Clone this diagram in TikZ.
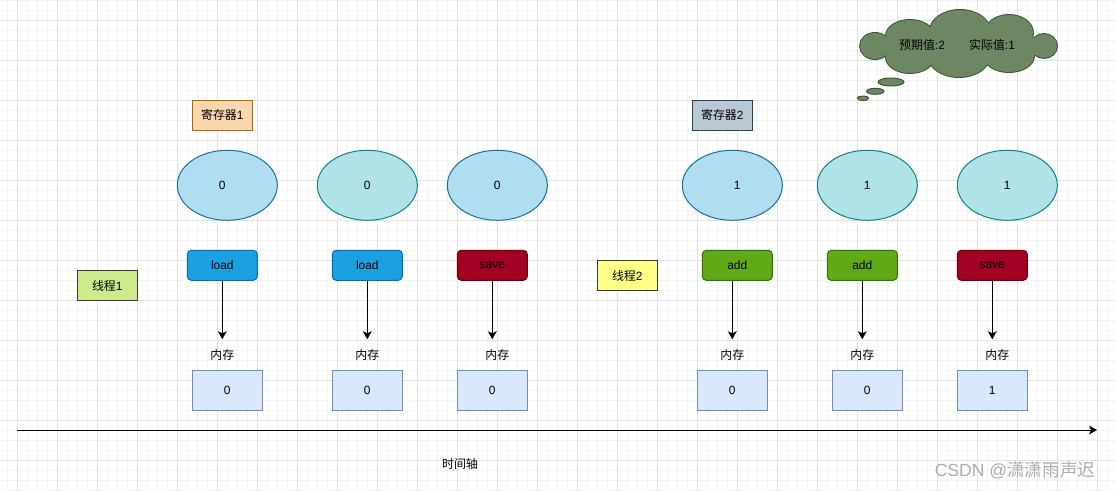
\documentclass[tikz,border=0pt]{standalone}
\usepackage{fontspec}
\setmainfont{Liberation Sans}
\newfontfamily\cjk{Noto Sans CJK SC}
\usetikzlibrary{arrows.meta,shapes.geometric}

\definecolor{gridminor}{HTML}{F4F4F4}
\definecolor{gridmajor}{HTML}{E2E2E2}
\definecolor{regAfill}{HTML}{FAD7AC}
\definecolor{regAline}{HTML}{B46504}
\definecolor{regBfill}{HTML}{BAC8D3}
\definecolor{regBline}{HTML}{23445D}
\definecolor{blueFill}{HTML}{B1DDF0}
\definecolor{blueLine}{HTML}{10739E}
\definecolor{cyanFill}{HTML}{B0E3E6}
\definecolor{cyanLine}{HTML}{0E8088}
\definecolor{loadFill}{HTML}{1BA1E2}
\definecolor{loadLine}{HTML}{006EAF}
\definecolor{saveFill}{HTML}{A20025}
\definecolor{saveLine}{HTML}{6F0000}
\definecolor{addFill}{HTML}{60A917}
\definecolor{addLine}{HTML}{2D7600}
\definecolor{memFill}{HTML}{DAE8FC}
\definecolor{memLine}{HTML}{6C8EBF}
\definecolor{thAfill}{HTML}{CDEB8B}
\definecolor{thBfill}{HTML}{FFFF88}
\definecolor{thLine}{HTML}{36393D}
\definecolor{cloudFill}{HTML}{6D8764}
\definecolor{cloudLine}{HTML}{3A5431}

\tikzset{
	tag/.style={draw, line width=0.7pt, minimum width=1.5cm, minimum height=0.75cm, inner sep=0pt},
	cell/.style={ellipse, draw, line width=0.7pt, minimum width=2.5cm, minimum height=1.75cm, inner sep=0pt},
	op/.style={draw, rounded corners=0.1cm, line width=0.7pt, minimum width=1.75cm, minimum height=0.75cm, inner sep=0pt},
	mem/.style={draw=memLine, fill=memFill, line width=0.7pt, minimum width=1.75cm, minimum height=1cm, inner sep=0pt},
	flow/.style={line width=0.7pt, -{Stealth[length=2mm,width=2.2mm,inset=0.5mm]}},
}

\begin{document}
\begin{tikzpicture}[x=0.025cm, y=-0.025cm, font=\fontsize{8.5}{10}\selectfont]
	\useasboundingbox (0,0) rectangle (1116,491);
	\fill[white] (0,0) rectangle (1116,491);
	\foreach \x in {7.5,17.5,...,1107.5} \draw[gridminor, line width=0.4pt] (\x,0) -- (\x,491);
	\foreach \y in {0,10,...,490} \draw[gridminor, line width=0.4pt] (0,\y) -- (1116,\y);
	\foreach \x in {17.5,57.5,...,1097.5} \draw[gridmajor, line width=0.5pt] (\x,0) -- (\x,491);
	\foreach \y in {20,60,...,460} \draw[gridmajor, line width=0.5pt] (0,\y) -- (1116,\y);

	\foreach \cx/\cy/\rx/\ry in {875/46/15/13, 910/36/24/16, 960/31/30/21, 1009/33/24/18, 1044/46/13/12, 1009/56/25/16, 959/57/30/20, 910/57/24/16}
		\draw[draw=cloudLine, fill=cloudFill, line width=1.4pt] (\cx,\cy) ellipse [x radius=\rx, y radius=\ry];
	\foreach \cx/\cy/\rx/\ry in {875/46/15/13, 910/36/24/16, 960/31/30/21, 1009/33/24/18, 1044/46/13/12, 1009/56/25/16, 959/57/30/20, 910/57/24/16}
		\fill[cloudFill] (\cx,\cy) ellipse [x radius=\rx, y radius=\ry];
	\fill[cloudFill] (888,38) rectangle (1036,55);
	\draw[draw=cloudLine, fill=cloudFill, line width=0.7pt] (891,82) ellipse [x radius=13, y radius=4];
	\draw[draw=cloudLine, fill=cloudFill, line width=0.7pt] (875.3,91.3) ellipse [x radius=8.7, y radius=3];
	\draw[draw=cloudLine, fill=cloudFill, line width=0.7pt] (863,98.3) ellipse [x radius=5.7, y radius=2.3];
	\node (expect) at (922,45) {{\cjk 预期值}:2};
	\node (actual) at (992,45) {{\cjk 实际值}:1};

	\node[tag, fill=regAfill, draw=regAline] (reg1) at (222.3,115.3) {{\cjk 寄存器}1};
	\node[tag, fill=regBfill, draw=regBline] (reg2) at (722.3,115.3) {{\cjk 寄存器}2};
	\node[tag, fill=thAfill, draw=thLine] (th1) at (107.3,285.5) {{\cjk 线程}1};
	\node[tag, fill=thBfill, draw=thLine] (th2) at (627.3,275.5) {{\cjk 线程}2};

	\node[cell, fill=blueFill, draw=blueLine, label={[xshift=-0.125cm]center:0}] (c1) at (227.3,185.3) {};
	\node[cell, fill=cyanFill, draw=cyanLine] (c2) at (367.3,185.3) {0};
	\node[cell, fill=blueFill, draw=blueLine] (c3) at (497.3,185.3) {0};
	\node[cell, fill=blueFill, draw=blueLine, label={[xshift=0.125cm]center:1}] (c4) at (732.3,185.3) {};
	\node[cell, fill=cyanFill, draw=cyanLine] (c5) at (867.3,185.3) {1};
	\node[cell, fill=cyanFill, draw=cyanLine] (c6) at (1007.3,185.3) {1};

	\node[op, fill=loadFill, draw=loadLine] (op1) at (222.3,265.3) {load};
	\node[op, fill=loadFill, draw=loadLine] (op2) at (367.3,265.3) {load};
	\node[op, fill=saveFill, draw=saveLine] (op3) at (492.3,265.3) {save};
	\node[op, fill=addFill, draw=addLine] (op4) at (737.3,265.3) {add};
	\node[op, fill=addFill, draw=addLine] (op5) at (862.3,265.3) {add};
	\node[op, fill=saveFill, draw=saveLine] (op6) at (992.3,265.3) {save};

	\coordinate (e1) at (222.3,339.3);
	\coordinate (e2) at (367.3,339.3);
	\coordinate (e3) at (492.3,339.3);
	\coordinate (e4) at (732.3,339.3);
	\coordinate (e5) at (862.3,339.3);
	\coordinate (e6) at (992.3,339.3);
	\draw[flow] (op1.south -| e1) -- (e1);
	\draw[flow] (op2.south -| e2) -- (e2);
	\draw[flow] (op3.south -| e3) -- (e3);
	\draw[flow] (op4.south -| e4) -- (e4);
	\draw[flow] (op5.south -| e5) -- (e5);
	\draw[flow] (op6.south -| e6) -- (e6);

	\node (lab1) at (222.3,355) {\cjk 内存};
	\node (lab2) at (367.3,355) {\cjk 内存};
	\node (lab3) at (497.3,355) {\cjk 内存};
	\node (lab4) at (732.3,355) {\cjk 内存};
	\node (lab5) at (862.3,355) {\cjk 内存};
	\node (lab6) at (997.3,355) {\cjk 内存};

	\node[mem] (mem1) at (227.3,390.3) {0};
	\node[mem] (mem2) at (367.3,390.3) {0};
	\node[mem] (mem3) at (492.3,390.3) {0};
	\node[mem] (mem4) at (732.3,390.3) {0};
	\node[mem] (mem5) at (867.3,390.3) {0};
	\node[mem] (mem6) at (992.3,390.3) {1};

	\coordinate (t0) at (17,430);
	\coordinate (t1) at (1097,430);
	\draw[flow] (t0) -- (t1);
	\node (axis) at (460,464) {\cjk 时间轴};
	\node[text=gray!65, font=\fontsize{12.5}{14}\selectfont] (mark) at (1015,470) {CSDN @{\cjk 潇潇雨声迟}};
\end{tikzpicture}
\end{document}
